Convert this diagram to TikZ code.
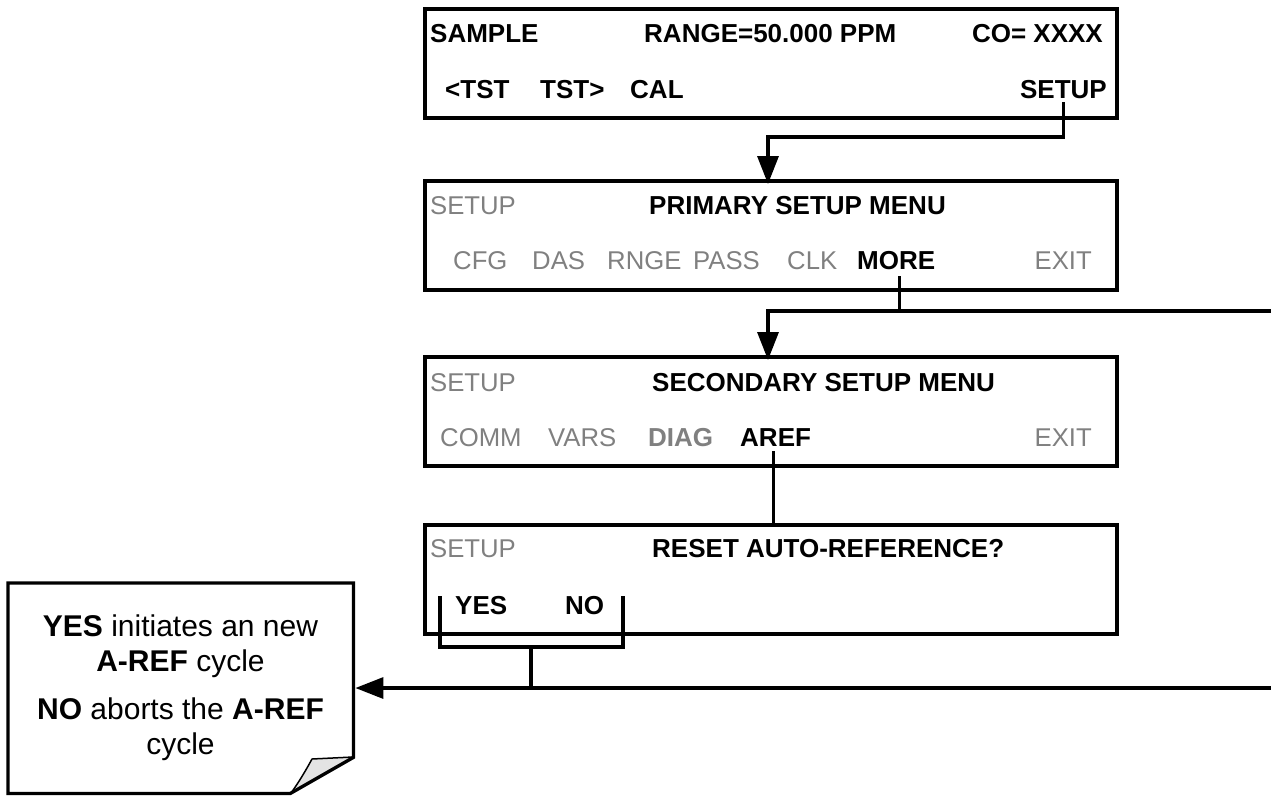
\documentclass[tikz,border=0pt]{standalone}
\usepackage{fontspec}
\setmainfont{Liberation Sans}
\usetikzlibrary{arrows.meta}
\definecolor{dimtext}{HTML}{808080}
\definecolor{curlfill}{HTML}{E3E3E3}
\begin{document}
\begin{tikzpicture}[x=1pt,y=-1pt,
  lcd/.style={draw=black,line width=3.5pt,minimum width=692pt,minimum height=109pt,inner sep=0pt,anchor=north west},
  txt/.style={inner sep=0pt,anchor=base west,font=\fontsize{25.7}{30}\selectfont},
  rtxt/.style={txt,anchor=base east},
  dim/.style={text=dimtext},
  bf/.style={font=\fontsize{26}{30}\selectfont\bfseries},
  notetxt/.style={inner sep=0pt,anchor=base,font=\fontsize{30}{35}\selectfont},
  link/.style={line width=3.3pt,line cap=rect},
  arrowlink/.style={line width=3.3pt,-{Triangle[length=28pt,width=21pt]}}
]
\useasboundingbox (0,0) rectangle (1271,796);

% screens
\node[lcd] (box1) at (423,7) {};
\node[lcd] (box2) at (423,179) {};
\node[lcd] (box3) at (423,355) {};
\node[lcd] (box4) at (423,523) {};

% box 1 texts
\node[txt,bf] (sample) at (430,42) {SAMPLE};
\node[txt,bf] (range) at (644,42) {RANGE=50.000 PPM};
\node[rtxt,bf] (co) at (1103,42) {CO= XXXX};
\node[txt,bf] (tstl) at (445,98) {<TST};
\node[txt,bf] (tstr) at (540,98) {TST>};
\node[txt,bf] (cal) at (630,98) {CAL};
\node[rtxt,bf] (setup1) at (1107,98) {SETUP};

% box 2 texts
\node[txt,dim] (setup2) at (430,214) {SETUP};
\node[txt,bf] (primary) at (649,214) {PRIMARY SETUP MENU};
\node[txt,dim] (cfg) at (453,269) {CFG};
\node[txt,dim] (das) at (532,269) {DAS};
\node[txt,dim] (rnge) at (607,269) {RNGE};
\node[txt,dim] (pass) at (693,269) {PASS};
\node[txt,dim] (clk) at (787,269) {CLK};
\node[txt,bf] (more) at (857,269) {MORE};
\node[rtxt,dim] (exit2) at (1092,269) {EXIT};

% box 3 texts
\node[txt,dim] (setup3) at (430,391) {SETUP};
\node[txt,bf] (secondary) at (652,391) {SECONDARY SETUP MENU};
\node[txt,dim] (comm) at (440,446) {COMM};
\node[txt,dim] (vars) at (548,446) {VARS};
\node[txt,bf,dim] (diag) at (648,446) {DIAG};
\node[txt,bf] (aref) at (740,446) {AREF};
\node[rtxt,dim] (exit3) at (1092,446) {EXIT};

% box 4 texts
\node[txt,dim] (setup4) at (430,557) {SETUP};
\node[txt,bf] (reset) at (652,557) {RESET AUTO-REFERENCE?};
\node[txt,bf] (yes) at (455,614) {YES};
\node[txt,bf] (no) at (565,614) {NO};

% note box
\node[inner sep=0pt,minimum width=345pt,minimum height=210pt,anchor=north west] (note) at (8,583) {};
\fill[curlfill] (353,757) -- (312,759) .. controls (306,770) and (299,782) .. (291,793) -- cycle;
\draw[line width=1.5pt,line join=round] (353,757) -- (312,759) .. controls (306,770) and (299,782) .. (291,793);
\draw[line width=3.3pt,line join=miter] (note.north west) -- (note.north east) -- ([yshift=36pt]note.south east) -- ([xshift=-63pt]note.south east) -- (note.south west) -- cycle;
\node[notetxt] (n1) at (180.5,636) {\textbf{YES} initiates an new};
\node[notetxt] (n2) at (180.5,671) {\textbf{A-REF} cycle};
\node[notetxt] (n3) at (180.5,719) {\textbf{NO} aborts the \textbf{A-REF}};
\node[notetxt] (n4) at (180.5,754) {cycle};

% connector SETUP -> primary setup menu
\coordinate (j1) at (768,137);
\draw[link] ([yshift=-5pt]setup1.south) |- (j1);
\draw[arrowlink] (j1) -- ([yshift=-5pt]j1 |- box2.north);

% connector MORE -> secondary setup menu
\coordinate (j2) at (768,311);
\coordinate (e2) at (1271,311);
\draw[link] ([xshift=3pt,yshift=-8pt]more.south) -- ([xshift=3pt]more.south |- j2);
\draw[link] (j2) -- (e2);
\draw[arrowlink] (j2) -- ([yshift=-5pt]j2 |- box3.north);

% connector AREF -> reset
\draw[link] ([xshift=-2pt,yshift=-6pt]aref.south) -- ([xshift=-2pt]aref.south |- box4.north);

% YES / NO bracket
\coordinate (bl) at (440,596);
\coordinate (br) at (623,596);
\coordinate (bm) at (531,647);
\coordinate (j4) at (531,688);
\coordinate (e4) at (1271,688);
\draw[line width=3.3pt,line join=miter] (bl) |- (bm) -| (br);
\draw[link] (bm) -- (j4);
\draw[arrowlink] (e4) -- ([xshift=2pt]note.east |- j4);
\end{tikzpicture}
\end{document}
